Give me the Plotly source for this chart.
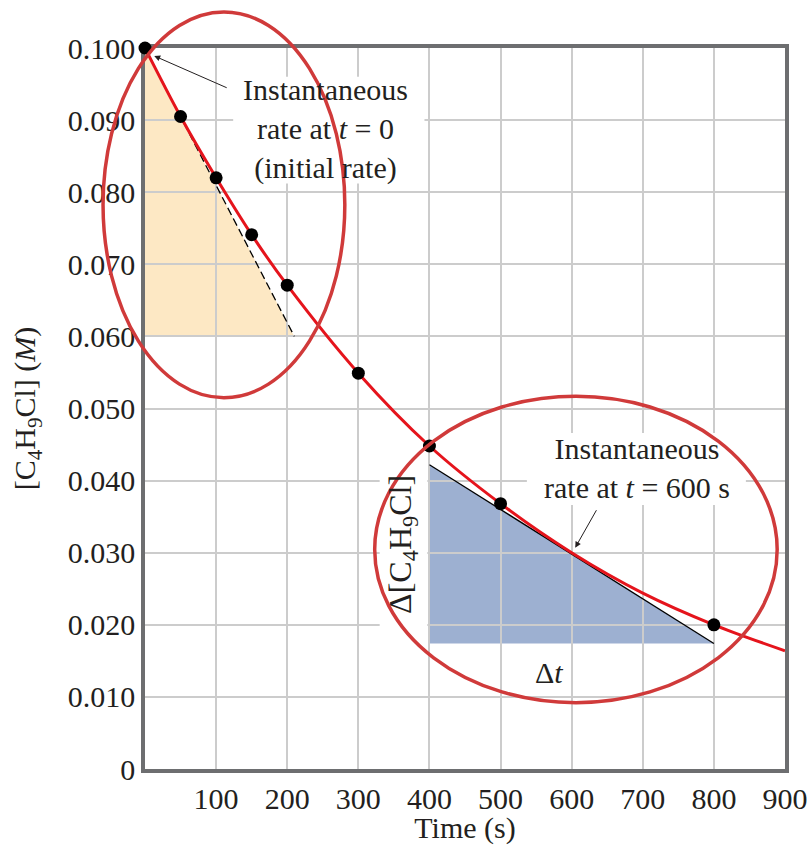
import plotly.graph_objects as go

# ---- data ----
time_s = [0, 50, 100, 150, 200, 300, 400, 500, 800]
conc_M = [0.1000, 0.0905, 0.0820, 0.0741, 0.0671, 0.0549, 0.0448, 0.0368, 0.0200]

curve_t = [0, 50, 100, 150, 200, 300, 400, 500, 600, 700, 800, 900]
curve_c = [0.1000, 0.0905, 0.0820, 0.0741, 0.0671, 0.0549, 0.0448, 0.0368, 0.0300, 0.0244, 0.0200, 0.0164]

tangent0_t = [0, 210]
tangent0_c = [0.100, 0.060]
tangent600_t = [400, 800]
tangent600_c = [0.0422, 0.0174]

x_ticks = [100, 200, 300, 400, 500, 600, 700, 800, 900]
x_ticktext = ["100", "200", "300", "400", "500", "600", "700", "800", "900"]
y_ticks = [0, 0.01, 0.02, 0.03, 0.04, 0.05, 0.06, 0.07, 0.08, 0.09, 0.10]
y_ticktext = ["0", "0.010", "0.020", "0.030", "0.040", "0.050", "0.060", "0.070", "0.080", "0.090", "0.100"]

X_RANGE = [0, 900]
Y_RANGE = [0, 0.100]

FONT = "Liberation Serif"
TXT = "#231f20"
RED_CURVE = "#e5141c"
RED_ELLIPSE = "#d03a3a"
ORANGE = "#fde8c4"
BLUE = "#9db0d1"
GRID = "#cccccc"
AXIS = "#6d6e70"


def xp(t):
    return (t - X_RANGE[0]) / (X_RANGE[1] - X_RANGE[0])


def yp(c):
    return (c - Y_RANGE[0]) / (Y_RANGE[1] - Y_RANGE[0])


fig = go.Figure()

# tangent lines
fig.add_trace(go.Scatter(x=tangent0_t, y=tangent0_c, mode="lines",
                         line=dict(color="black", width=1.3, dash="8px,4px"),
                         hoverinfo="skip", showlegend=False))
fig.add_trace(go.Scatter(x=tangent600_t, y=tangent600_c, mode="lines",
                         line=dict(color="black", width=1.3),
                         hoverinfo="skip", showlegend=False))

# smooth curve
fig.add_trace(go.Scatter(x=curve_t, y=curve_c, mode="lines",
                         line=dict(color=RED_CURVE, width=3, shape="spline"),
                         hoverinfo="skip", showlegend=False))

# data points
fig.add_trace(go.Scatter(x=time_s, y=conc_M, mode="markers",
                         marker=dict(color="black", size=13),
                         cliponaxis=False, showlegend=False))

shapes = []
# shaded triangles (below gridlines)
shapes.append(dict(type="path", xref="x", yref="y", layer="below",
                   path=f"M {tangent0_t[0]},{tangent0_c[0]} L {tangent0_t[0]},{tangent0_c[1]} "
                        f"L {tangent0_t[1]},{tangent0_c[1]} Z",
                   fillcolor=ORANGE, line=dict(width=0)))
shapes.append(dict(type="path", xref="x", yref="y", layer="below",
                   path=f"M {tangent600_t[0]},{tangent600_c[0]} L {tangent600_t[0]},{tangent600_c[1]} "
                        f"L {tangent600_t[1]},{tangent600_c[1]} Z",
                   fillcolor=BLUE, line=dict(width=0)))

# white masks behind labels (above gridlines, below traces)
for (x0, x1, y0, y1) in [(124, 393, 0.0812, 0.0960),
                         (537, 845, 0.0366, 0.0466),
                         (330, 397, 0.0170, 0.0443)]:
    shapes.append(dict(type="rect", xref="x", yref="y", layer="between",
                       x0=x0, x1=x1, y0=y0, y1=y1,
                       fillcolor="white", line=dict(width=0)))

# red ellipses (paper refs so they are not clipped)
for (t0, t1, c0, c1) in [(-59, 281, 0.0515, 0.1050),
                         (323, 889, 0.0092, 0.0517)]:
    shapes.append(dict(type="circle", xref="paper", yref="paper", layer="above",
                       x0=xp(t0), x1=xp(t1), y0=yp(c0), y1=yp(c1),
                       line=dict(color=RED_ELLIPSE, width=3.5)))

annots = []
tf = dict(family=FONT, size=30, color=TXT)
for txt, x, y in [("Instantaneous<br>rate at <i>t</i> = 0<br>(initial rate)", 254, 0.0887),
                  ("Instantaneous<br>rate at <i>t</i> = 600 s", 692, 0.0417),
                  ("Δ<i>t</i>", 568, 0.01345)]:
    annots.append(dict(x=x, y=y, xref="x", yref="y", text=txt, showarrow=False,
                       font=tf, xanchor="center", yanchor="middle", align="center"))
annots.append(dict(x=363, y=0.0311, xref="x", yref="y",
                   text="Δ[C<sub>4</sub>H<sub>9</sub>Cl]", textangle=-90,
                   showarrow=False, font=dict(family=FONT, size=32, color=TXT),
                   xanchor="center", yanchor="middle"))
# arrows
for (tx, ty, hx, hy) in [(117, 0.0944, 13, 0.0989),
                         (636, 0.0361, 605, 0.0307)]:
    annots.append(dict(x=hx, y=hy, ax=tx, ay=ty, xref="x", yref="y",
                       axref="x", ayref="y", text="", showarrow=True,
                       arrowhead=2, arrowsize=1.2, arrowwidth=1, arrowcolor=TXT))

fig.update_layout(
    width=809, height=845,
    margin=dict(l=145, r=24, t=48, b=76),
    paper_bgcolor="white", plot_bgcolor="white",
    shapes=shapes, annotations=annots,
    showlegend=False,
    font=dict(family=FONT, size=30, color=TXT),
)

fig.update_xaxes(range=X_RANGE, tickvals=x_ticks, ticktext=x_ticktext,
                 showgrid=True, gridcolor=GRID, gridwidth=1.5,
                 showline=True, linecolor=AXIS, linewidth=3.5, mirror=True,
                 ticks="", zeroline=False, layer="below traces", automargin=False,
                 tickfont=dict(family=FONT, size=30, color=TXT),
                 title=dict(text="Time (s)", font=dict(family=FONT, size=30, color=TXT), standoff=4))
fig.update_yaxes(range=Y_RANGE, tickvals=y_ticks, ticktext=y_ticktext,
                 showgrid=True, gridcolor=GRID, gridwidth=1.5,
                 showline=True, linecolor=AXIS, linewidth=3.5, mirror=True,
                 ticks="", zeroline=False, layer="below traces", automargin=False,
                 tickfont=dict(family=FONT, size=30, color=TXT),
                 title=dict(text="[C<sub>4</sub>H<sub>9</sub>Cl] (<i>M</i>)",
                            font=dict(family=FONT, size=30, color=TXT), standoff=24))

fig.write_html("out.html")
